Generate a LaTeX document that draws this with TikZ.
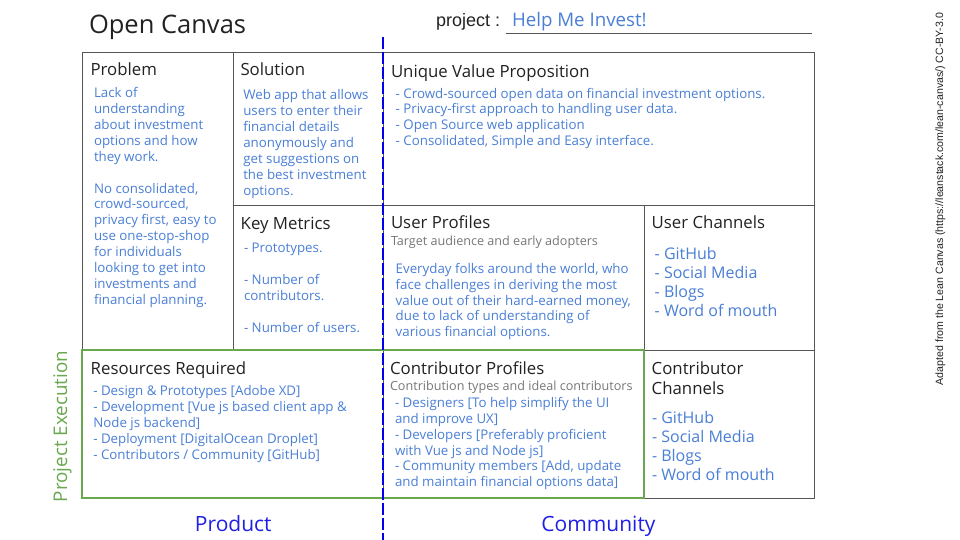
\documentclass[tikz,border=0pt]{standalone}
\usepackage{fontspec}
\setmainfont{Open Sans}
\newfontfamily\arialfont{Liberation Sans}
\definecolor{bodyblue}{HTML}{4A7FD6}
\definecolor{labelblue}{HTML}{1F1FE6}
\definecolor{dashblue}{HTML}{0000F0}
\definecolor{gridgray}{HTML}{555555}
\definecolor{execgreen}{HTML}{6AA84F}
\definecolor{headink}{HTML}{222222}
\definecolor{subgray}{HTML}{777777}
\begin{document}
\begin{tikzpicture}[x=1pt,y=-1pt,
  every node/.style={inner sep=0pt, outer sep=0pt},
  gridline/.style={draw=gridgray, line width=0.9pt},
  heading/.style={anchor=base west, align=left, text=headink, font=\fontsize{16.8}{20}\selectfont},
  subtitle/.style={anchor=base west, align=left, text=subgray, font=\fontsize{12.6}{15}\selectfont},
  bodytext/.style={anchor=base west, align=left, text=bodyblue, font=\fontsize{13.3}{15.85}\selectfont},
  chantext/.style={anchor=base west, align=left, text=bodyblue, font=\fontsize{16}{19}\selectfont},
  biglabel/.style={anchor=base, text=labelblue, font=\fontsize{21}{25}\selectfont}
]
\useasboundingbox (0,0) rectangle (960,540);
\fill[white] (0,0) rectangle (960,540);

% grid coordinates
\coordinate (TL) at (82,52);
\coordinate (BR) at (814,498);
\coordinate (c1top) at (233,52);
\coordinate (c1bot) at (233,350);
\coordinate (c2top) at (383,52);
\coordinate (c2bot) at (383,498);
\coordinate (c3top) at (644,205);
\coordinate (c3bot) at (644,498);
\coordinate (r1l) at (233,205);
\coordinate (r1r) at (814,205);
\coordinate (r2l) at (82,350);
\coordinate (r2r) at (814,350);
\coordinate (ul1) at (506,33.3);
\coordinate (ul2) at (812,33.3);
\coordinate (dtop) at (383,37.5);
\coordinate (dbot) at (383,540);
\coordinate (gTL) at (82,350);
\coordinate (gBR) at (643.5,498);

% grid
\draw[gridline] (TL) rectangle (BR);
\draw[gridline] (c1top) -- (c1bot);
\draw[gridline] (c2top) -- (c2bot);
\draw[gridline] (c3top) -- (c3bot);
\draw[gridline] (r1l) -- (r1r);
\draw[gridline] (r2l) -- (r2r);
\draw[gridline] (ul1) -- (ul2);

% project execution box
\draw[draw=execgreen, line width=2pt] (gTL) rectangle (gBR);

% dashed divider
\draw[draw=dashblue, line width=2pt, dash pattern=on 12pt off 3pt] (dtop) -- (dbot);

% title row
\node[anchor=base west, text=headink, font=\fontsize{25.5}{30}\selectfont] (title) at (89,33.3) {Open Canvas};
\node[anchor=base west, text=headink, font=\arialfont\fontsize{18}{21}\selectfont] (projlbl) at (436,26.7) {project :};
\node[anchor=base west, text=bodyblue, font=\fontsize{18.7}{22}\selectfont] (projname) at (512,26.7) {Help Me Invest!};

% headings (multi-line nodes are anchored at the baseline of their last line)
\node[heading] (hprob) at (90.5,76) {Problem};
\node[heading] (hsol) at (240.5,76) {Solution};
\node[heading] (huvp) at (391,77.3) {Unique Value Proposition};
\node[heading] (hkm) at (240.7,229.3) {Key Metrics};
\node[heading] (hup) at (391,228.3) {User Profiles};
\node[heading] (huc) at (651.7,228.3) {User Channels};
\node[heading] (hrr) at (90.7,374) {Resources Required};
\node[heading] (hcp) at (390,374) {Contributor Profiles};
\node[heading] (hcc) at (651.7,394) {Contributor\\Channels};

% subtitles
\node[subtitle] (sup) at (391,245) {Target audience and early adopters};
\node[subtitle] (scp) at (390,390.7) {Contribution types and ideal contributors};

% bodies
\node[bodytext] (bprob) at (94,304) {Lack of\\understanding\\about investment\\options and how\\they work.\\[15.85pt]No consolidated,\\crowd-sourced,\\privacy first, easy to\\use one-stop-shop\\for individuals\\looking to get into\\investments and\\financial planning.};
\node[bodytext] (bsol) at (243.3,195) {Web app that allows\\users to enter their\\financial details\\anonymously and\\get suggestions on\\the best investment\\options.};
\node[bodytext] (buvp) at (395.7,145.7) {- Crowd-sourced open data on financial investment options.\\- Privacy-first approach to handling user data.\\- Open Source web application\\- Consolidated, Simple and Easy interface.};
\node[bodytext] (bkm) at (244,332) {- Prototypes.\\[15.85pt]- Number of\\contributors.\\[15.85pt]- Number of users.};
\node[bodytext] (bup) at (395.7,336.7) {Everyday folks around the world, who\\face challenges in deriving the most\\value out of their hard-earned money,\\due to lack of understanding of\\various financial options.};
\node[chantext] (buc) at (654.7,316.7) {- GitHub\\- Social Media\\- Blogs\\- Word of mouth};
\node[bodytext] (brr) at (93.3,459.3) {- Design \& Prototypes [Adobe XD]\\- Development [Vue js based client app \&\\Node js backend]\\- Deployment [DigitalOcean Droplet]\\- Contributors / Community [GitHub]};
\node[bodytext] (bcp) at (395,486.7) {- Designers [To help simplify the UI\\and improve UX]\\- Developers [Preferably proficient\\with Vue js and Node js]\\- Community members [Add, update\\and maintain financial options data]};
\node[chantext] (bcc) at (652,480) {- GitHub\\- Social Media\\- Blogs\\- Word of mouth};

% side and bottom labels
\node[anchor=base, rotate=90, text=execgreen, font=\fontsize{18.8}{22}\selectfont] (exec) at (67,426.5) {Project Execution};
\node[biglabel] (product) at (233.3,531) {Product};
\node[biglabel] (community) at (598.5,531) {Community};
\node[anchor=base, rotate=90, text=headink, font=\arialfont\fontsize{10.6}{12}\selectfont] (credit) at (943,199) {Adapted from the Lean Canvas (https://leanstack.com/lean-canvas/) CC-BY-3.0};
\end{tikzpicture}
\end{document}
